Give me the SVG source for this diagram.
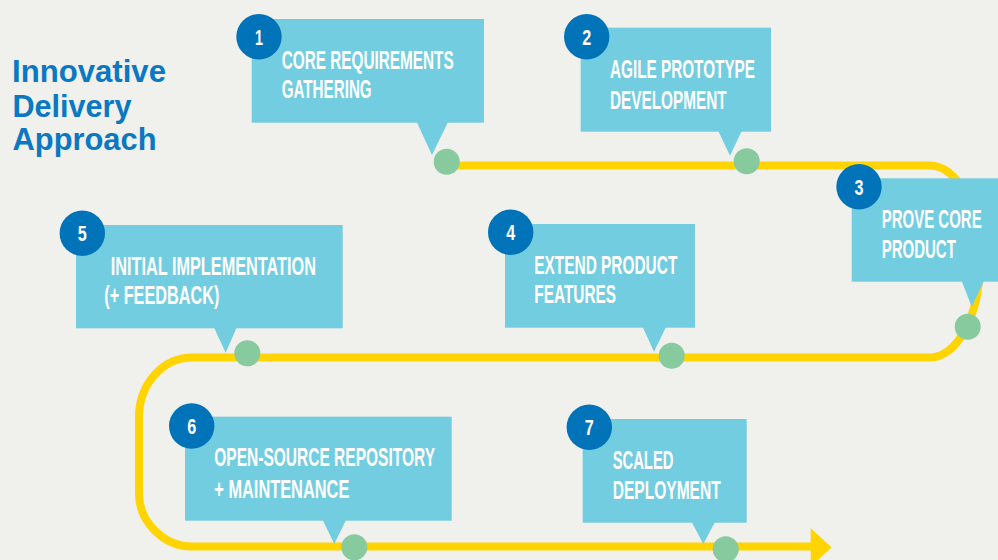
<svg xmlns="http://www.w3.org/2000/svg" width="998" height="560" viewBox="0 0 998 560">
  <style>
    .box { fill: #72cde0; }
    .badge { fill: #0073b9; }
    .dot { fill: #86ca9e; }
    .lbl { font-family: "Liberation Sans", Arial, sans-serif; font-weight: bold; font-size: 25px; fill: #ffffff; }
    .num { font-family: "Liberation Sans", Arial, sans-serif; font-weight: bold; font-size: 22px; fill: #ffffff; text-anchor: middle; }
    .title { font-family: "Liberation Sans", Arial, sans-serif; font-weight: bold; font-size: 32px; fill: #0a78c2; }
    .track { fill: none; stroke: #ffd400; stroke-width: 8; }
  </style>
  <rect x="0" y="0" width="998" height="560" fill="#f0f0ec"/>

  <g id="title">
    <text class="title" x="12" y="82.3" textLength="154" lengthAdjust="spacingAndGlyphs">Innovative</text>
    <text class="title" x="12.5" y="116.7" textLength="119" lengthAdjust="spacingAndGlyphs">Delivery</text>
    <text class="title" x="12.5" y="149.5" textLength="144" lengthAdjust="spacingAndGlyphs">Approach</text>
  </g>

  <g id="connectors">
    <path class="track" d="M 447 165.5 H 930 A 50 96 0 0 1 930 357.5 H 192 C 163 357.5 139 384 139 417 V 494 C 139 521 163 546.5 192 546.5 H 812"/>
    <polygon points="810.7,528.3 831.7,547.5 810.7,566.7" fill="#ffd400"/>
  </g>

  <g id="node1">
    <rect class="box" x="251.7" y="19" width="232.3" height="103.7"/>
    <polygon class="box" points="416.7,122 448,122 432,155"/>
    <circle class="badge" cx="259" cy="36.7" r="22.7"/>
    <text class="num" x="259" y="44.5" textLength="8" lengthAdjust="spacingAndGlyphs">1</text>
    <text class="lbl" x="281.7" y="69" textLength="172" lengthAdjust="spacingAndGlyphs">CORE REQUIREMENTS</text>
    <text class="lbl" x="281.7" y="97.5" textLength="90" lengthAdjust="spacingAndGlyphs">GATHERING</text>
    <circle class="dot" cx="446.7" cy="161.7" r="13"/>
  </g>

  <g id="node2">
    <rect class="box" x="580.7" y="27.7" width="190.3" height="104"/>
    <polygon class="box" points="718.3,131 741.7,131 730,155.7"/>
    <circle class="badge" cx="586.7" cy="36.7" r="22.7"/>
    <text class="num" x="586.7" y="44.5" textLength="9" lengthAdjust="spacingAndGlyphs">2</text>
    <text class="lbl" x="610" y="78.3" textLength="145" lengthAdjust="spacingAndGlyphs">AGILE PROTOTYPE</text>
    <text class="lbl" x="610" y="109" textLength="116.7" lengthAdjust="spacingAndGlyphs">DEVELOPMENT</text>
    <circle class="dot" cx="746.7" cy="161.3" r="13"/>
  </g>

  <g id="node3">
    <rect class="box" x="851.7" y="178.3" width="150" height="103.4"/>
    <polygon class="box" points="961.7,281 984,281 971.7,306.7"/>
    <circle class="badge" cx="859" cy="186.7" r="22.7"/>
    <text class="num" x="859" y="194.5" textLength="9" lengthAdjust="spacingAndGlyphs">3</text>
    <text class="lbl" transform="translate(881.7,228.3) scale(0.6,1)" x="0" y="0">PROVE CORE</text>
    <text class="lbl" transform="translate(881.7,258.3) scale(0.6,1)" x="0" y="0">PRODUCT</text>
    <circle class="dot" cx="967.7" cy="326.7" r="13"/>
  </g>

  <g id="node4">
    <rect class="box" x="505" y="224" width="190" height="103.7"/>
    <polygon class="box" points="642.7,327 666,327 654,351.7"/>
    <circle class="badge" cx="510.7" cy="232.3" r="22.7"/>
    <text class="num" x="510.7" y="240.1" textLength="9" lengthAdjust="spacingAndGlyphs">4</text>
    <text class="lbl" x="534.3" y="274" textLength="143" lengthAdjust="spacingAndGlyphs">EXTEND PRODUCT</text>
    <text class="lbl" x="534.3" y="303.3" textLength="81.7" lengthAdjust="spacingAndGlyphs">FEATURES</text>
    <circle class="dot" cx="671.7" cy="355.7" r="13"/>
  </g>

  <g id="node5">
    <rect class="box" x="76" y="225" width="266.7" height="103.3"/>
    <polygon class="box" points="214,327.6 236.7,327.6 225.7,352.7"/>
    <circle class="badge" cx="82.3" cy="233.3" r="22.7"/>
    <text class="num" x="82.3" y="241.1" textLength="9" lengthAdjust="spacingAndGlyphs">5</text>
    <text class="lbl" x="110.7" y="275" textLength="205.3" lengthAdjust="spacingAndGlyphs">INITIAL IMPLEMENTATION</text>
    <text class="lbl" x="104.3" y="303.5" textLength="115" lengthAdjust="spacingAndGlyphs">(+ FEEDBACK)</text>
    <circle class="dot" cx="247.3" cy="353.3" r="13"/>
  </g>

  <g id="node6">
    <rect class="box" x="185" y="416.7" width="266.7" height="104"/>
    <polygon class="box" points="322.7,520 346,520 334.3,544"/>
    <circle class="badge" cx="191.7" cy="426" r="22.7"/>
    <text class="num" x="191.7" y="433.8" textLength="9" lengthAdjust="spacingAndGlyphs">6</text>
    <text class="lbl" x="214.3" y="466" textLength="220.7" lengthAdjust="spacingAndGlyphs">OPEN-SOURCE REPOSITORY</text>
    <text class="lbl" x="214.3" y="497.7" textLength="135" lengthAdjust="spacingAndGlyphs">+ MAINTENANCE</text>
    <circle class="dot" cx="354.3" cy="547.3" r="13"/>
  </g>

  <g id="node7">
    <rect class="box" x="582.7" y="419" width="164" height="103.7"/>
    <polygon class="box" points="691.7,522 715,522 703.3,544"/>
    <circle class="badge" cx="589.3" cy="427.3" r="22.7"/>
    <text class="num" x="589.3" y="435.1" textLength="9" lengthAdjust="spacingAndGlyphs">7</text>
    <text class="lbl" x="612.7" y="469" textLength="60.7" lengthAdjust="spacingAndGlyphs">SCALED</text>
    <text class="lbl" x="612.7" y="499.3" textLength="108" lengthAdjust="spacingAndGlyphs">DEPLOYMENT</text>
    <circle class="dot" cx="725.7" cy="549.3" r="13"/>
  </g>
</svg>
